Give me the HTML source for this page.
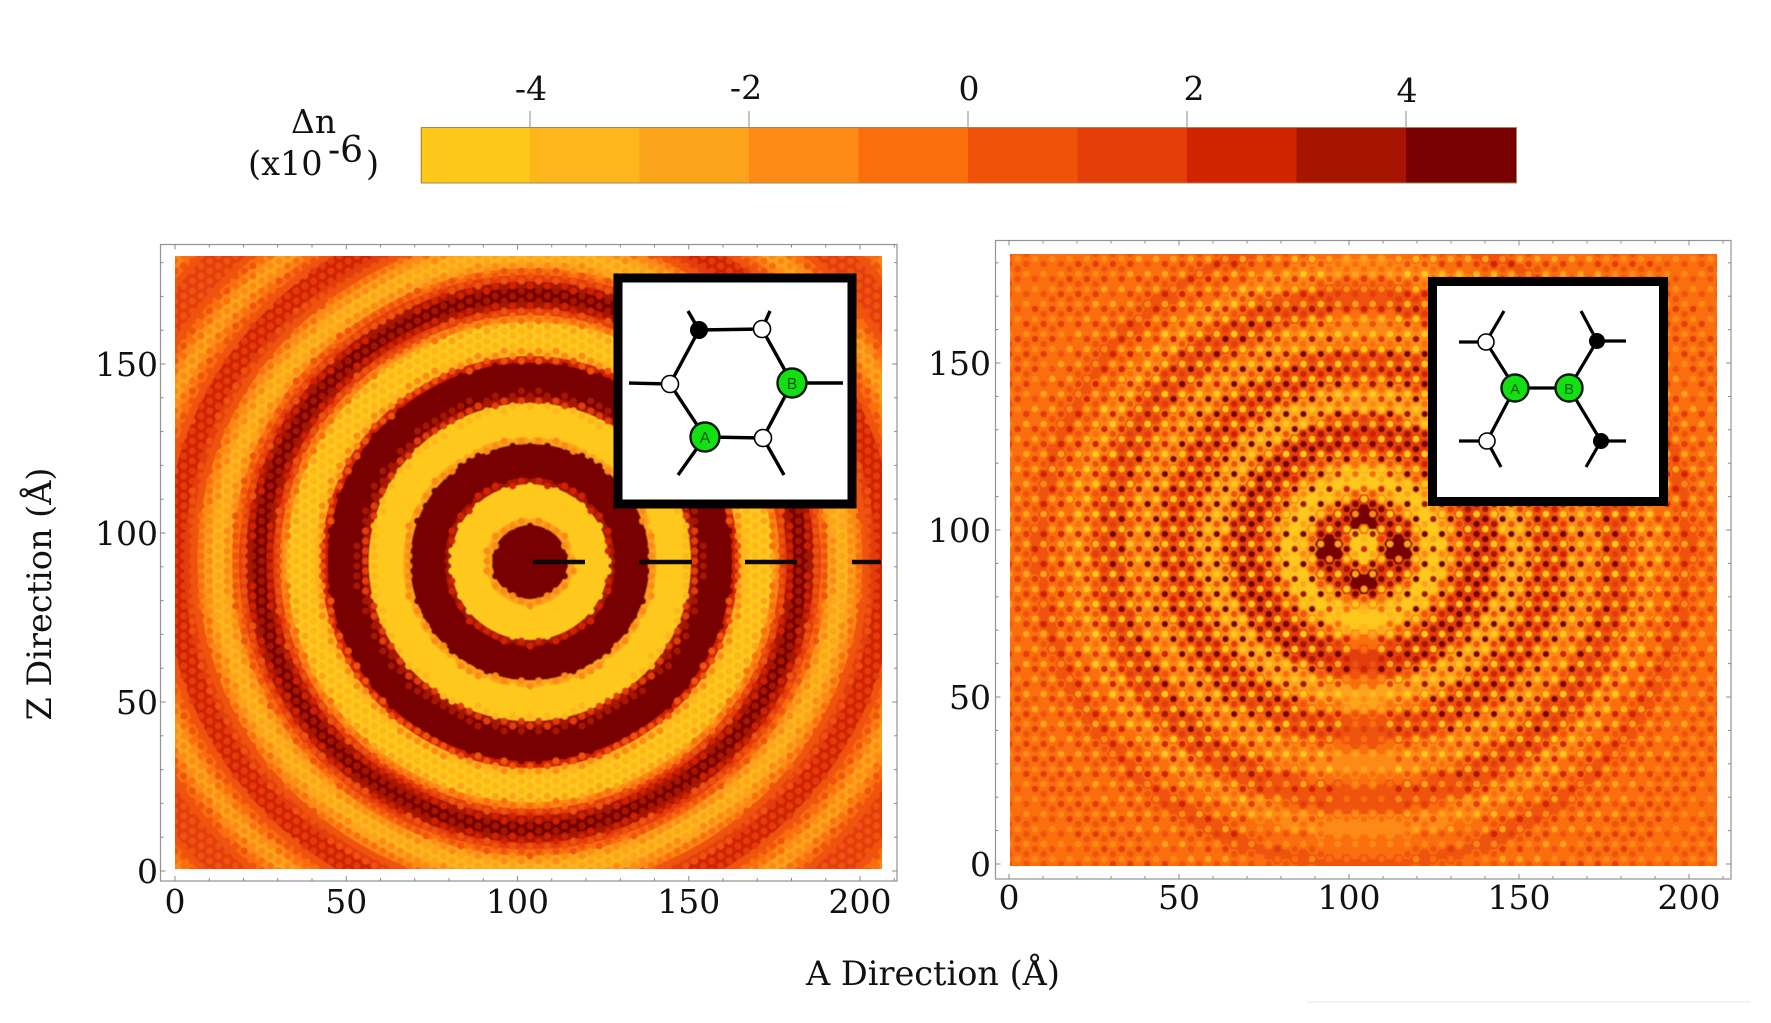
<!DOCTYPE html>
<html lang="en">
<head>
<meta charset="utf-8">
<title>Delta n density maps</title>
<style>
  html,body{margin:0;padding:0;background:#fff;width:1771px;height:1023px;overflow:hidden}
  svg{display:block}
  text{font-family:"DejaVu Serif","Liberation Serif",serif;fill:#111}
</style>
</head>
<body>
<svg id="figure" xmlns="http://www.w3.org/2000/svg" width="1771" height="1023" viewBox="0 0 1771 1023">
  <defs>
    <clipPath id="clip-left"><rect x="175" y="256" width="707" height="613"/></clipPath>
    <clipPath id="clip-right"><rect x="1010" y="254" width="707" height="612"/></clipPath>
    <filter id="soft" x="-2%" y="-2%" width="104%" height="104%"><feGaussianBlur stdDeviation="0.6"/></filter>
  </defs>

  <g id="colorbar"></g>
  <g>
    <text x="291" y="133" font-size="33">Δn</text>
    <text x="248" y="175" font-size="33.5">(x10</text>
    <text x="328" y="162" font-size="36">-6</text>
    <text x="366" y="175" font-size="33.5">)</text>
  </g>

  <g id="panel-left"></g>
  <g id="panel-right"></g>

  <g stroke="#0a0a0a" stroke-width="4.5">
    <line x1="533" y1="562" x2="585" y2="562"/>
    <line x1="639" y1="562" x2="692" y2="562"/>
    <line x1="745" y1="562" x2="797" y2="562"/>
    <line x1="852" y1="562" x2="881" y2="562"/>
  </g>

  <g>
    <rect x="618" y="278" width="234" height="226" fill="#fff" stroke="#000" stroke-width="9"/>
    <g stroke="#000" stroke-width="3.4" fill="none">
      <path d="M699 330L762 329L792 383L763 438L705 437L670 384Z"/>
      <path d="M699 330L688 311M762 329L770 311M670 384L629 383M792 383L843 383M705 437L678 475M763 438L784 475"/>
    </g>
    <circle cx="699" cy="330" r="8.5" fill="#000" stroke="#000"/>
    <circle cx="762" cy="329" r="8.5" fill="#fff" stroke="#000" stroke-width="1.6"/>
    <circle cx="670" cy="384" r="8.5" fill="#fff" stroke="#000" stroke-width="1.6"/>
    <circle cx="763" cy="438" r="8.5" fill="#fff" stroke="#000" stroke-width="1.6"/>
    <circle cx="792" cy="383" r="14.5" fill="#12e012" stroke="#0a1a0a" stroke-width="2.4"/>
    <circle cx="705" cy="437" r="14.5" fill="#12e012" stroke="#0a1a0a" stroke-width="2.4"/>
    <text x="792" y="389" font-size="16" text-anchor="middle" style="font-family:'Liberation Sans',sans-serif;fill:#0b5a0b">B</text>
    <text x="705" y="443" font-size="16" text-anchor="middle" style="font-family:'Liberation Sans',sans-serif;fill:#0b5a0b">A</text>
  </g>

  <g>
    <rect x="1432.5" y="281.5" width="231" height="220" fill="#fff" stroke="#000" stroke-width="9"/>
    <g stroke="#000" stroke-width="3.2" fill="none">
      <path d="M1486 342L1515 388L1569 388L1597 341M1487 441L1515 388M1569 388L1601 441"/>
      <path d="M1459 342L1486 342L1504 311M1459 441L1487 441L1501 467M1626 341L1597 341L1581 311M1626 441L1601 441L1586 467"/>
    </g>
    <circle cx="1486" cy="342" r="8" fill="#fff" stroke="#000" stroke-width="1.6"/>
    <circle cx="1487" cy="441" r="8" fill="#fff" stroke="#000" stroke-width="1.6"/>
    <circle cx="1597" cy="341" r="8" fill="#000"/>
    <circle cx="1601" cy="441" r="8" fill="#000"/>
    <circle cx="1515" cy="388" r="13.5" fill="#12e012" stroke="#0a1a0a" stroke-width="2.4"/>
    <circle cx="1569" cy="388" r="13.5" fill="#12e012" stroke="#0a1a0a" stroke-width="2.4"/>
    <text x="1515" y="394" font-size="15" text-anchor="middle" style="font-family:'Liberation Sans',sans-serif;fill:#0b5a0b">A</text>
    <text x="1569" y="394" font-size="15" text-anchor="middle" style="font-family:'Liberation Sans',sans-serif;fill:#0b5a0b">B</text>
  </g>

  <text x="933" y="985" font-size="33.5" text-anchor="middle">A Direction (Å)</text>
  <text transform="translate(51 594) rotate(-90)" font-size="33.5" text-anchor="middle">Z Direction (Å)</text>
  <line x1="1307" y1="1002" x2="1750" y2="1002" stroke="#f3f3f3" stroke-width="2"/>
</svg>

<script>
/* Colour scale, colourbar ticks and axis ticks */
const colorLevels = ["#fec81b","#feb61b","#fda31b","#fd8a14","#fb6e0c","#ef5209","#e33e08","#d22300","#a71500","#780000"];
const colorbarTicks = [-4, -2, 0, 2, 4];
const xTickLabels = [0, 50, 100, 150, 200];
const yTickLabels = [0, 50, 100, 150];

/* Left panel: density against distance from the defect, one value per 2 Å */
const leftRadialMean = [9,9,9,9,9,6,-3,-6,-8,-8,-8,-6,3,6,8,8,8,6,-3,-6,-7,-7,-7,-5.5,3,5,7,7,7,5.5,2,-3.5,-5.5,-5.5,-5.5,-4.5,-2,1,3.5,4.5,4.5,3.5,1.5,-1,-3,-3.5,-3.5,-3,-1.5,0,1.5,2.5,2.5,2,0.5,-0.8,-2,-2.5,-2.5,-2,-1,0,1,1.5,1.5,1,0,-1,-1.5,-1.5,-1.5];
/* Left panel: how far the lattice dots sit toward zero, one value per 10 Å */
const leftDotShrink = [0.5,1,1,1.5,1.5,1.5,1.5,1.5,1.5,1.2,1.2,1,1,1,1];

/* Right panel: density against distance, one value per 2 Å */
const rightRadialMean = [-6,-6,-5,-1,5,6,5,1,-2,-4,-5,-5,-4,-2,-1,0,1,1.5,1.5,0.5,-1,-2.5,-2.5,-2.5,-1.5,-0.5,0,0.2,0.2,0,-1,-2,-2,-2,-1.5,-0.8,0,0.2,0.2,0,-0.6,-1.2,-1.5,-1.5,-1,-0.6,-0.2,0,0,-0.1,-0.3,-0.6,-0.8,-0.8,-0.6,-0.4,-0.2,-0.1,-0.1,-0.2,-0.3,-0.5,-0.6,-0.6,-0.5,-0.4,-0.3,-0.3,-0.3,-0.3,-0.3];
/* Right panel: sublattice contrast, one value per 10 Å */
const rightSublatticeSplit = [8,8,8,8,8,7.5,6.5,4.5,3.5,2.6,2,1.6,1.4,1.2,1.1];
/* Right panel: contrast weight per 15° sector, counter-clockwise from the +A direction */
const rightSectorWeight = [1,1,1,1,1,0.8,0.5,0.8,1,1,1,1,1,1,1,1,0.8,0.45,0.12,0.45,0.8,1,1,1];
/* Right panel: strength of the dark lobes around the centre per 15° sector */
const rightLobeWeight = [1,1,0.3,0.2,0.3,1,1,1,0.3,0.2,0.3,1,1,1,0.3,0.2,0.3,1,1,1,0.3,0.2,0.3,1];
/* Right panel: relative sign of the three lattice site classes */
const rightSiteClassSign = [1,-1,0.35];

const NS = "http://www.w3.org/2000/svg";
function mk(tag, attrs, parent) {
  const el = document.createElementNS(NS, tag);
  for (const k in attrs) el.setAttribute(k, attrs[k]);
  parent.appendChild(el);
  return el;
}
function bin(arr, x, width) {
  return arr[Math.max(0, Math.min(arr.length - 1, Math.round(x / width)))];
}
function colorOf(v) {
  const i = Math.max(0, Math.min(colorLevels.length - 1, Math.floor(v + colorLevels.length / 2)));
  return colorLevels[i];
}

/* Colourbar */
const barX = v => 968 + v * 109.5;
const barGroup = document.getElementById("colorbar");
colorLevels.forEach((c, i) => {
  const seg = mk("rect", {x: barX(i - 5), y: 127.5, width: 110, height: 55.5, fill: c}, barGroup);
  
  
});
const barOutline = mk("rect", {x: 421.5, y: 127.5, width: 1095, height: 55.5, fill: "none", stroke: "#9a8a60", "stroke-width": 1}, barGroup);


colorbarTicks.forEach(v => {
  const t = mk("line", {x1: barX(v), x2: barX(v), y1: 111, y2: 128, stroke: "#888", "stroke-width": 1}, barGroup);
  
  
  const nudgeX = v === 2 ? 7 : (v === -2 ? -3 : 1);
  const nudgeY = v === -2 ? -2 : (v === 4 ? 1 : -1);
  const l = mk("text", {x: barX(v) + nudgeX, y: 101 + nudgeY, "font-size": 33, "text-anchor": "middle"}, barGroup);
  l.textContent = String(v);
  
  
});

/* Shared panel drawing */
function drawPanel(p) {
  const root = document.getElementById(p.id);
  const frame = mk("rect", {x: p.frame[0], y: p.frame[1], width: p.frame[2] - p.frame[0], height: p.frame[3] - p.frame[1], fill: "#fff", stroke: "#8f9498", "stroke-width": 1.2}, root);
  
  

  for (let a = 0; a <= 210; a += 10) {
    const len = a % 50 === 0 ? 5 : 3;
    const b = mk("line", {x1: p.x(a), x2: p.x(a), y1: p.frame[3], y2: p.frame[3] - len, stroke: "#888"}, root);
    
    
    const t = mk("line", {x1: p.x(a), x2: p.x(a), y1: p.frame[1], y2: p.frame[1] + len, stroke: "#888"}, root);
    
    
  }
  for (let z = 0; z <= 180; z += 10) {
    const len = z % 50 === 0 ? 5 : 3;
    const l = mk("line", {x1: p.frame[0], x2: p.frame[0] + len, y1: p.y(z), y2: p.y(z), stroke: "#888"}, root);
    
    
    const r = mk("line", {x1: p.frame[2], x2: p.frame[2] - len, y1: p.y(z), y2: p.y(z), stroke: "#888"}, root);
    
    
  }
  xTickLabels.forEach(v => {
    const l = mk("text", {x: p.x(v), y: p.xLabelY, "font-size": 33, "text-anchor": "middle"}, root);
    l.textContent = String(v);
    
    
  });
  yTickLabels.forEach(v => {
    const l = mk("text", {x: p.yLabelX, y: p.y(v) + 12, "font-size": 33, "text-anchor": "end"}, root);
    l.textContent = String(v);
    
    
  });

  const clip = mk("g", {"clip-path": "url(#" + p.clip + ")"}, root);
  
  
  const layer = mk("g", {filter: "url(#soft)"}, clip);
  
  
  const backing = p.baseRings ? colorOf(p.baseRings[p.baseRings.length - 1]) : "#fb6e0c";
  mk("rect", {x: p.frame[0], y: p.frame[1], width: p.frame[2] - p.frame[0], height: p.frame[3] - p.frame[1], fill: backing}, layer);

  /* Smooth base rings, outermost first; rings that would leave the page are left to the backing rect */
  if (p.baseRings) {
    const maxRy = 1023 - p.y(p.cz) - 2;
    for (let k = p.baseRings.length - 1; k >= 0; k--) {
      const rx = (k + 0.5) * 2 * p.sx, ry = (k + 0.5) * 2 * p.sz;
      if (ry > maxRy) continue;
      const ring = mk("ellipse", {
        cx: p.x(p.cx), cy: p.y(p.cz),
        rx: rx.toFixed(1),
        ry: ry.toFixed(1),
        fill: colorOf(p.baseRings[k])
      }, layer);
      
      
    }
  }

  const stepA = 8.66 / p.sx, stepZ = 10 / p.sz;
  const dots = [];
  const cols = Math.ceil(212 / stepA), rows = Math.ceil(186 / stepZ);
  for (let i = 0; i <= cols; i++) {
    for (let j = -1; j <= rows; j++) {
      const a = i * stepA, z = (j + (i % 2) / 2) * stepZ;
      const da = a - p.cx, dz = z - p.cz;
      const r = Math.hypot(da, dz);
      const theta = Math.atan2(dz, da);
      const v = p.value(r, theta, i, j);
      const px = p.x(a), py = p.y(z), R = 6;
      if (!p.baseRings) {
        const d = "M" + (px - R).toFixed(1) + " " + py.toFixed(1) +
          "L" + (px - R / 2).toFixed(1) + " " + (py - 5.3).toFixed(1) +
          "L" + (px + R / 2).toFixed(1) + " " + (py - 5.3).toFixed(1) +
          "L" + (px + R).toFixed(1) + " " + py.toFixed(1) +
          "L" + (px + R / 2).toFixed(1) + " " + (py + 5.3).toFixed(1) +
          "L" + (px - R / 2).toFixed(1) + " " + (py + 5.3).toFixed(1) + "Z";
        const cell = mk("path", {d: d, fill: colorOf(v.base)}, layer);
        
        
      }
      dots.push([px, py, v.dot]);
    }
  }
  dots.forEach(q => {
    const dot = mk("circle", {cx: q[0].toFixed(1), cy: q[1].toFixed(1), r: p.dotR, fill: colorOf(q[2])}, layer);
    
    
  });
}

drawPanel({
  id: "panel-left", clip: "clip-left", frame: [160.5, 244.5, 897, 881],
  sx: 3.425, sz: 3.38, cx: 103.6, cz: 91.4, dotR: 3.5, xLabelY: 913, yLabelX: 158,
  baseRings: leftRadialMean,
  x: a => 175 + a * 3.425,
  y: z => 871 - z * 3.38,
  value: function (r) {
    const m = bin(leftRadialMean, r, 2);
    const s = bin(leftDotShrink, r, 10);
    return {base: m, dot: Math.sign(m) * Math.max(Math.abs(m) - s, 0)};
  }
});

drawPanel({
  id: "panel-right", clip: "clip-right", frame: [995.5, 240.5, 1731, 879],
  sx: 3.4, sz: 3.34, cx: 104.4, cz: 94.6, dotR: 3.3, xLabelY: 909, yLabelX: 991,
  x: a => 1009 + a * 3.4,
  y: z => 864 - z * 3.34,
  value: function (r, theta, i, j) {
    const deg = (theta * 180 / Math.PI + 360) % 360;
    const sector = Math.round(deg / 15) % 24;
    let m = bin(rightRadialMean, r, 2);
    if (r > 6 && r < 16 && m > 0) m *= rightLobeWeight[sector];
    const w = rightSectorWeight[sector];
    const fade = r < 16 ? 0 : 1;
    const s = bin(rightSublatticeSplit, r, 10) * (1 - (1 - w) * fade);
    /* Three site classes on the triangular lattice */
    const q = j + ((i % 2) - i) / 2;
    const siteClass = (((i - q) % 3) + 3) % 3;
    return {base: m, dot: m + s * rightSiteClassSign[siteClass]};
  }
});
</script>
</body>
</html>
